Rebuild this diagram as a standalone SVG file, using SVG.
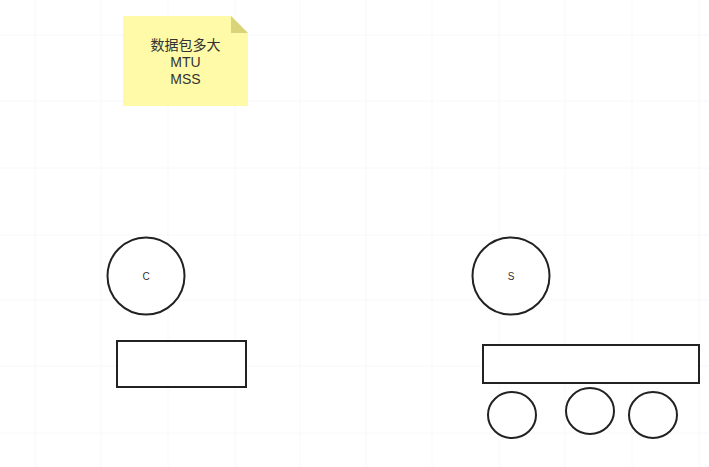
<svg xmlns="http://www.w3.org/2000/svg" width="709" height="467" viewBox="0 0 709 467">
<style>
.grid{stroke:#f8f8f8;stroke-width:1}
.shape{fill:#ffffff;stroke:#222222;stroke-width:2}
.note{fill:#fffaa8}
.fold{fill:#d9d47a}
.t{font-family:"Liberation Sans","Noto Sans CJK SC",sans-serif;fill:#333333;text-anchor:middle}
</style>
<rect width="709" height="467" fill="#ffffff"/>
<g id="grid">
<path class="grid" d="M35,0V467M101,0V467M168,0V467M235,0V467M300,0V467M366,0V467M432,0V467M499,0V467M565,0V467M632,0V467M699,0V467M0,35H709M0,101H709M0,168H709M0,235H709M0,300H709M0,366H709M0,433H709"/>
</g>
<g id="note">
<path class="note" d="M123,16H231L248,33V106H123Z"/>
<path class="fold" d="M231,16L248,33H231Z"/>
<text class="t" x="185.5" y="50" font-size="14">数据包多大</text>
<text class="t" x="185.5" y="67" font-size="14">MTU</text>
<text class="t" x="185.5" y="84" font-size="14">MSS</text>
</g>
<g id="nodeC">
<ellipse class="shape" cx="146" cy="276" rx="38.5" ry="38.5"/>
<text class="t" x="146" y="280" font-size="10">C</text>
</g>
<g id="bufC">
<rect class="shape" x="117" y="341" width="129" height="46"/>
</g>
<g id="nodeS">
<ellipse class="shape" cx="511" cy="276" rx="38.5" ry="38.5"/>
<text class="t" x="511" y="280" font-size="10">S</text>
</g>
<g id="bufS">
<rect class="shape" x="483" y="345" width="216" height="38"/>
</g>
<g id="pkt1"><ellipse class="shape" cx="512" cy="415" rx="24" ry="23"/></g>
<g id="pkt2"><ellipse class="shape" cx="590" cy="411" rx="24" ry="23"/></g>
<g id="pkt3"><ellipse class="shape" cx="653" cy="415" rx="24" ry="23"/></g>
<g id="connectors"></g>
</svg>
